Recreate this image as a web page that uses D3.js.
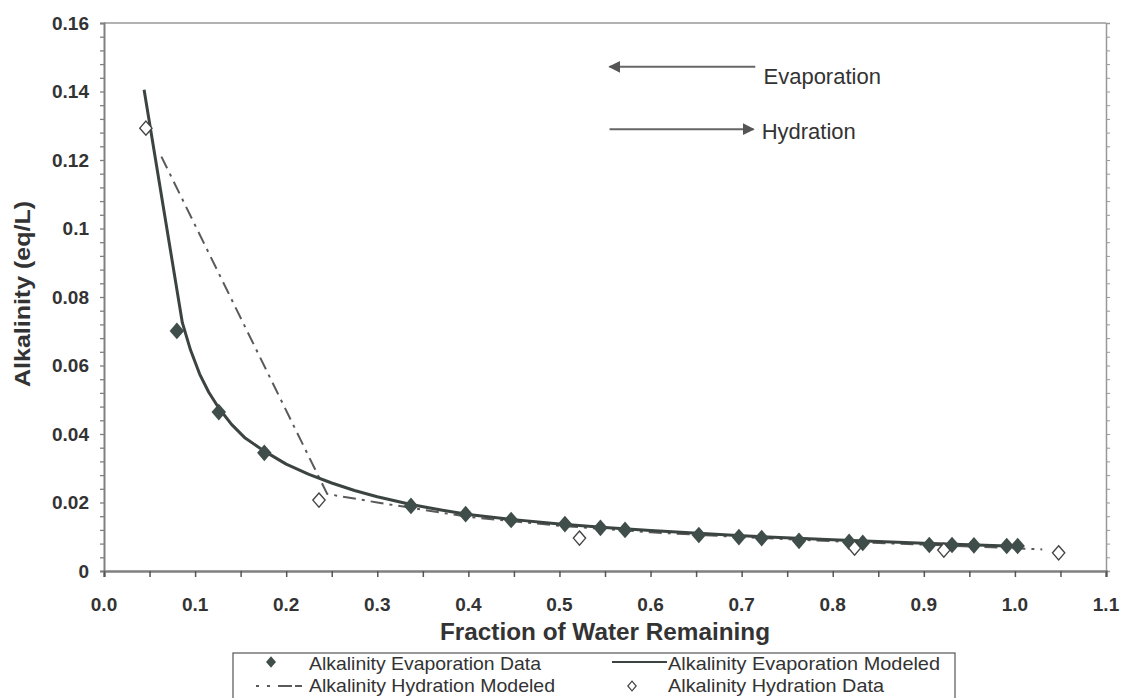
<!DOCTYPE html>
<html>
<head>
<meta charset="utf-8">
<script src="https://cdn.jsdelivr.net/npm/d3@7"></script>
<style>
  body { margin: 0; background: #fff; }
  text { font-family: "Liberation Sans", Arial, sans-serif; fill: #333; }
</style>
</head>
<body>
<script>
// Data
var evapDataX = [0.080, 0.126, 0.176, 0.337, 0.397, 0.447, 0.506, 0.545, 0.572, 0.653,
                 0.697, 0.722, 0.763, 0.818, 0.833, 0.906, 0.931, 0.955, 0.991, 1.003];
var evapDataY = [0.0701, 0.0464, 0.0345, 0.0190, 0.0166, 0.0149, 0.0137, 0.0126, 0.0120, 0.0105,
                 0.0099, 0.0096, 0.0088, 0.0085, 0.0082, 0.0076, 0.0076, 0.0075, 0.0073, 0.0073];

var evapModelX = [0.044, 0.086, 0.095, 0.105, 0.115, 0.126, 0.14, 0.155, 0.176, 0.2, 0.225, 0.25, 0.275, 0.3, 0.337, 0.37, 0.4, 0.45, 0.5, 0.55, 0.6, 0.7, 0.8, 0.9, 1.0];
var evapModelY = [0.1405, 0.0725, 0.0645, 0.0575, 0.0522, 0.0476, 0.0428, 0.0388, 0.0350, 0.0312, 0.0282, 0.0257, 0.0235, 0.0217, 0.0194, 0.0178, 0.0165, 0.0150, 0.0137, 0.0127, 0.0118, 0.0103, 0.0091, 0.0081, 0.0072];

var hydModelX = [0.063, 0.245, 0.3, 0.4, 0.5, 0.6, 0.7, 0.8, 0.9, 1.03];
var hydModelY = [0.121, 0.0225, 0.0200, 0.0158, 0.0132, 0.0113, 0.0099, 0.0087, 0.0077, 0.0063];

var hydDataX = [0.046, 0.236, 0.522, 0.824, 0.922, 1.048];
var hydDataY = [0.1293, 0.0207, 0.0096, 0.0067, 0.0061, 0.0053];

var xTickLabels = ["0.0", "0.1", "0.2", "0.3", "0.4", "0.5", "0.6", "0.7", "0.8", "0.9", "1.0", "1.1"];
var yTickLabels = ["0", "0.02", "0.04", "0.06", "0.08", "0.1", "0.12", "0.14", "0.16"];

function zip(xs, ys) {
    return xs.map(function(x, i) { return [x, ys[i]]; });
}

function init() {
    var w = 1121;
    var h = 698;
    var left = 104, right = 1106, top = 23, bottom = 571;

    var xScale = d3.scaleLinear().domain([0, 1.1]).range([left, right]);
    var yScale = d3.scaleLinear().domain([0, 0.16]).range([bottom, top]);

    var svg = d3.select("body").append("svg")
        .attr("width", w)
        .attr("height", h);

    var axisColor = "#808080";

    // frame: top line
    svg.append("line")
        .attr("x1", left).attr("x2", right)
        .attr("y1", top).attr("y2", top)
        .attr("stroke", "#999").attr("stroke-width", 1.5);

    // Y axis (left) with minor ticks
    var yMinor = d3.range(0, 0.1601, 0.004);
    var yAxis = d3.axisLeft(yScale).tickValues(yMinor).tickSize(4).tickFormat("");
    var gy = svg.append("g").attr("transform", "translate(" + left + ",0)").call(yAxis);
    gy.selectAll("line").attr("stroke", axisColor).attr("stroke-width", 1.3);
    gy.select(".domain").attr("stroke", axisColor).attr("stroke-width", 2);

    svg.selectAll("text.ytick")
        .data(yTickLabels)
        .enter().append("text")
        .attr("class", "ytick")
        .attr("x", left - 15)
        .attr("y", function(d, i) { return yScale(i * 0.02); })
        .attr("dy", "0.36em")
        .attr("text-anchor", "end")
        .attr("font-size", "19px")
        .attr("font-weight", "bold")
        .attr("fill", "#3a3a3a")
        .text(function(d) { return d; });

    // right axis
    var yAxisR = d3.axisRight(yScale).tickValues(yMinor).tickSize(4).tickFormat("");
    var gr = svg.append("g").attr("transform", "translate(" + right + ",0)").call(yAxisR);
    gr.selectAll("line").attr("stroke", "#999").attr("stroke-width", 1);
    gr.select(".domain").attr("stroke", "#999").attr("stroke-width", 1.5);

    // X axis
    var xAxis = d3.axisBottom(xScale).tickValues(d3.range(0, 1.1001, 0.05)).tickSize(6).tickFormat("");
    var gx = svg.append("g").attr("transform", "translate(0," + bottom + ")").call(xAxis);
    gx.selectAll("line").attr("stroke", "#555").attr("stroke-width", 1.5);
    gx.select(".domain").attr("stroke", axisColor).attr("stroke-width", 2.5);

    svg.selectAll("text.xtick")
        .data(xTickLabels)
        .enter().append("text")
        .attr("class", "xtick")
        .attr("x", function(d, i) { return xScale(i * 0.1); })
        .attr("y", 611)
        .attr("text-anchor", "middle")
        .attr("font-size", "19px")
        .attr("font-weight", "bold")
        .attr("fill", "#3a3a3a")
        .text(function(d) { return d; });

    // axis titles
    svg.append("text")
        .attr("x", 605)
        .attr("y", 640)
        .attr("text-anchor", "middle")
        .attr("font-size", "23px")
        .attr("font-weight", "bold")
        .attr("textLength", 330)
        .attr("lengthAdjust", "spacingAndGlyphs")
        .text("Fraction of Water Remaining");

    svg.append("text")
        .attr("transform", "translate(30,294) rotate(-90)")
        .attr("text-anchor", "middle")
        .attr("font-size", "22px")
        .attr("font-weight", "bold")
        .attr("textLength", 186)
        .attr("lengthAdjust", "spacingAndGlyphs")
        .text("Alkalinity (eq/L)");

    var line = d3.line()
        .x(function(d) { return xScale(d[0]); })
        .y(function(d) { return yScale(d[1]); });

    // hydration modeled (dash-dot)
    svg.append("path")
        .datum(zip(hydModelX, hydModelY))
        .attr("d", line)
        .attr("fill", "none")
        .attr("stroke", "#5a5a5a")
        .attr("stroke-width", 2)
        .attr("stroke-dasharray", "13,6,3,6");

    // evaporation modeled (solid)
    svg.append("path")
        .datum(zip(evapModelX, evapModelY))
        .attr("d", line)
        .attr("fill", "none")
        .attr("stroke", "#3b4440")
        .attr("stroke-width", 3)
        .attr("stroke-linejoin", "round");

    // diamond shape
    var diamond = {
        draw: function(ctx, size) {
            var r = Math.sqrt(size) / 2;
            ctx.moveTo(0, -r * 1.15);
            ctx.lineTo(r, 0);
            ctx.lineTo(0, r * 1.15);
            ctx.lineTo(-r, 0);
            ctx.closePath();
        }
    };

    svg.selectAll("path.evap")
        .data(zip(evapDataX, evapDataY))
        .enter().append("path")
        .attr("class", "evap")
        .attr("transform", function(d) { return "translate(" + xScale(d[0]) + "," + yScale(d[1]) + ")"; })
        .attr("d", d3.symbol().type(diamond).size(210))
        .attr("fill", "#3f4e4a");

    svg.selectAll("path.hyd")
        .data(zip(hydDataX, hydDataY))
        .enter().append("path")
        .attr("class", "hyd")
        .attr("transform", function(d) { return "translate(" + xScale(d[0]) + "," + yScale(d[1]) + ")"; })
        .attr("d", d3.symbol().type(diamond).size(150))
        .attr("fill", "#fff")
        .attr("stroke", "#444")
        .attr("stroke-width", 1.4);

    // annotations
    var defs = svg.append("defs");
    defs.append("marker")
        .attr("id", "arrow")
        .attr("viewBox", "0 0 10 10")
        .attr("refX", 9).attr("refY", 5)
        .attr("markerWidth", 6).attr("markerHeight", 6)
        .attr("markerUnits", "strokeWidth")
        .attr("orient", "auto")
        .append("path")
        .attr("d", "M0,0 L10,5 L0,10 z")
        .attr("fill", "#555");

    svg.append("line")
        .attr("x1", xScale(0.715)).attr("x2", xScale(0.555))
        .attr("y1", yScale(0.1472)).attr("y2", yScale(0.1472))
        .attr("stroke", "#666").attr("stroke-width", 2)
        .attr("marker-end", "url(#arrow)");
    svg.append("text")
        .attr("x", xScale(0.724)).attr("y", yScale(0.1445))
        .attr("dy", "0.36em")
        .attr("font-size", "22px")
        .text("Evaporation");

    svg.append("line")
        .attr("x1", xScale(0.555)).attr("x2", xScale(0.713))
        .attr("y1", yScale(0.129)).attr("y2", yScale(0.129))
        .attr("stroke", "#666").attr("stroke-width", 2)
        .attr("marker-end", "url(#arrow)");
    svg.append("text")
        .attr("x", xScale(0.722)).attr("y", yScale(0.1285))
        .attr("dy", "0.36em")
        .attr("font-size", "22px")
        .text("Hydration");

    // legend
    var lg = svg.append("g");
    lg.append("rect")
        .attr("x", 233).attr("y", 653)
        .attr("width", 722).attr("height", 60)
        .attr("fill", "#fff")
        .attr("stroke", "#555").attr("stroke-width", 1.2);

    function legendText(x, y, len, s) {
        lg.append("text").attr("x", x).attr("y", y).attr("dy", "0.36em")
            .attr("font-size", "19px")
            .attr("textLength", len)
            .attr("lengthAdjust", "spacingAndGlyphs")
            .text(s);
    }

    lg.append("path")
        .attr("transform", "translate(271,662)")
        .attr("d", d3.symbol().type(diamond).size(100))
        .attr("fill", "#3f4e4a");
    legendText(309, 663, 232, "Alkalinity Evaporation Data");

    lg.append("line").attr("x1", 612).attr("x2", 667).attr("y1", 662).attr("y2", 662)
        .attr("stroke", "#3b4440").attr("stroke-width", 2);
    legendText(668, 663, 272, "Alkalinity Evaporation Modeled");

    lg.append("line").attr("x1", 256).attr("x2", 302).attr("y1", 686).attr("y2", 686)
        .attr("stroke", "#5a5a5a").attr("stroke-width", 2)
        .attr("stroke-dasharray", "3,8,3,8,14");
    legendText(309, 685, 246, "Alkalinity Hydration Modeled");

    lg.append("path")
        .attr("transform", "translate(632,686)")
        .attr("d", d3.symbol().type(diamond).size(70))
        .attr("fill", "#fff").attr("stroke", "#444").attr("stroke-width", 1.2);
    legendText(668, 685, 216, "Alkalinity Hydration Data");
}

window.onload = init;
</script>
</body>
</html>
